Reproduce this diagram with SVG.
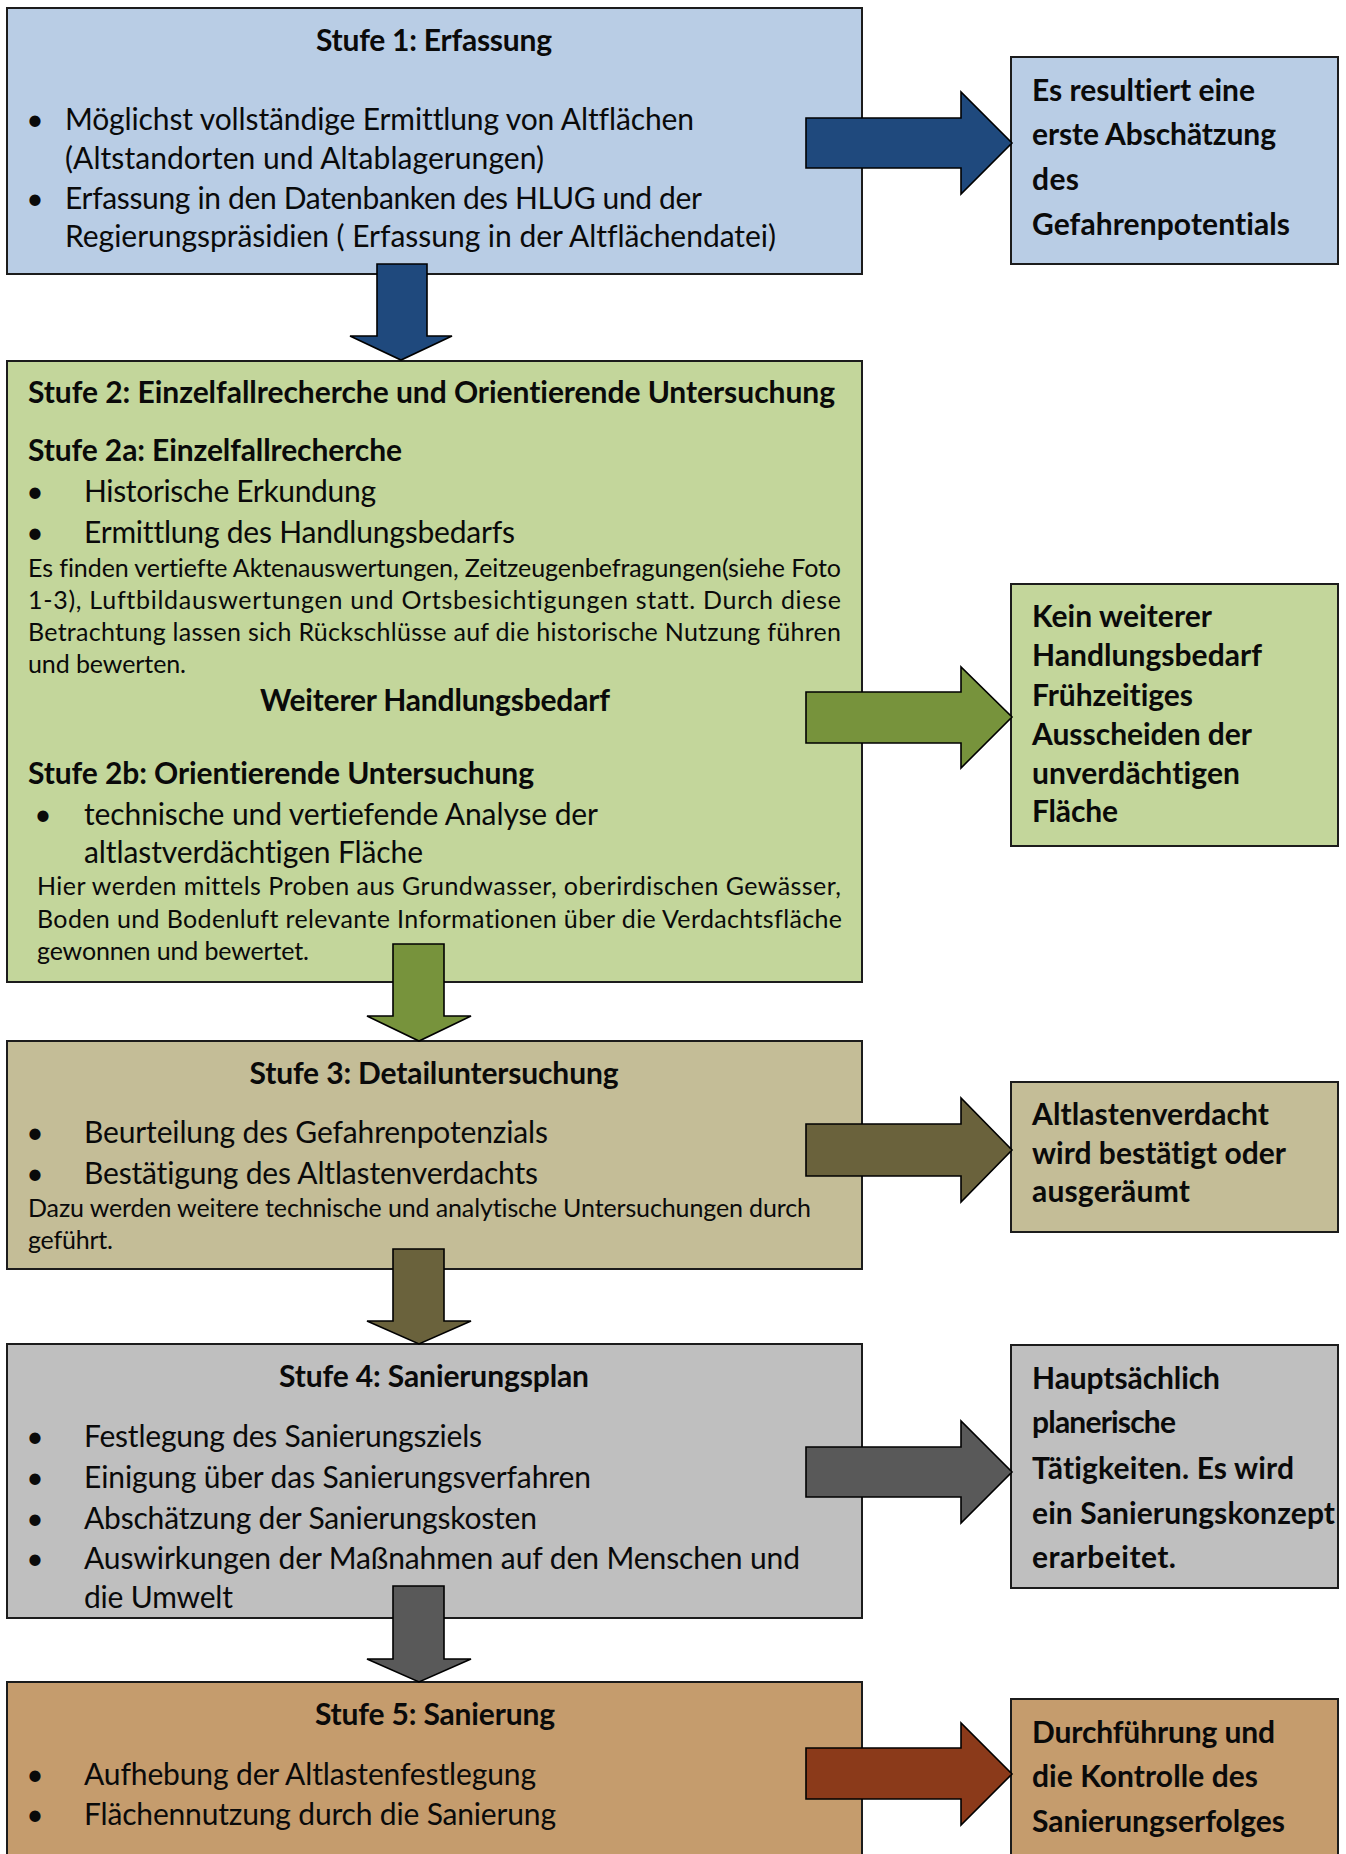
<svg xmlns="http://www.w3.org/2000/svg" width="1346" height="1854" viewBox="0 0 1346 1854">
<style>
.box{stroke:#1c1c1c;stroke-width:2}
.arr{stroke:#000;stroke-width:1.6;stroke-linejoin:miter}
text{font-family:Lato,"Open Sans","Liberation Sans",sans-serif;fill:#0a0a0a;font-variant-ligatures:none;font-feature-settings:"liga" 0,"dlig" 0}
.h{font-weight:bold;font-size:30px}
.n{font-size:30px}
.p{font-size:25px}
.c{text-anchor:middle}
.blt{font-size:30px;text-anchor:middle}
</style>
<rect width="1346" height="1854" fill="#ffffff"/>

<g id="stufe1">
<rect class="box" x="7" y="8" width="855" height="266" fill="#b9cde5"/>
<text class="h c" x="434" y="51" textLength="236">Stufe 1: Erfassung</text>
<text class="blt" x="35" y="130">•</text>
<text class="n" x="65" y="130" textLength="629">Möglichst vollständige Ermittlung von Altflächen</text>
<text class="n" x="65" y="169" textLength="479">(Altstandorten und Altablagerungen)</text>
<text class="blt" x="35" y="209">•</text>
<text class="n" x="65" y="209" textLength="637">Erfassung in den Datenbanken des HLUG und der</text>
<text class="n" x="65" y="247" textLength="711">Regierungspräsidien ( Erfassung in der Altflächendatei)</text>
</g>

<g id="ergebnis1">
<rect class="box" x="1011" y="57" width="327" height="207" fill="#b9cde5"/>
<text class="h" x="1032" y="101" textLength="223">Es resultiert eine</text>
<text class="h" x="1032" y="145" textLength="244">erste Abschätzung</text>
<text class="h" x="1032" y="190" textLength="47">des</text>
<text class="h" x="1032" y="235" textLength="258">Gefahrenpotentials</text>
</g>

<g id="stufe2">
<rect class="box" x="7" y="361" width="855" height="621" fill="#c3d69b"/>
<text class="h" x="28" y="403" textLength="807">Stufe 2: Einzelfallrecherche und Orientierende Untersuchung</text>
<text class="h" x="28" y="461" textLength="374">Stufe 2a: Einzelfallrecherche</text>
<text class="blt" x="35" y="502">•</text>
<text class="n" x="84" y="502" textLength="292">Historische Erkundung</text>
<text class="blt" x="35" y="543">•</text>
<text class="n" x="84" y="543" textLength="431">Ermittlung des Handlungsbedarfs</text>
<text class="p" x="28" y="577" textLength="813" lengthAdjust="spacing">Es finden vertiefte Aktenauswertungen, Zeitzeugenbefragungen(siehe Foto</text>
<text class="p" x="28" y="609" textLength="813" lengthAdjust="spacing">1-3), Luftbildauswertungen und Ortsbesichtigungen statt. Durch diese</text>
<text class="p" x="28" y="641" textLength="813" lengthAdjust="spacing">Betrachtung lassen sich Rückschlüsse auf die historische Nutzung führen</text>
<text class="p" x="28" y="673" textLength="158">und bewerten.</text>
<text class="h c" x="435" y="711" textLength="350">Weiterer Handlungsbedarf</text>
<text class="h" x="28" y="784" textLength="506">Stufe 2b: Orientierende Untersuchung</text>
<text class="blt" x="43" y="825">•</text>
<text class="n" x="84" y="825" textLength="514">technische und vertiefende Analyse der</text>
<text class="n" x="84" y="863" textLength="339">altlastverdächtigen Fläche</text>
<text class="p" x="37" y="895" textLength="804" lengthAdjust="spacing">Hier werden mittels Proben aus Grundwasser, oberirdischen Gewässer,</text>
<text class="p" x="37" y="928" textLength="805" lengthAdjust="spacing">Boden und Bodenluft relevante Informationen über die Verdachtsfläche</text>
<text class="p" x="37" y="960" textLength="272">gewonnen und bewertet.</text>
</g>

<g id="ergebnis2">
<rect class="box" x="1011" y="584" width="327" height="262" fill="#c3d69b"/>
<text class="h" x="1032" y="627" textLength="180">Kein weiterer</text>
<text class="h" x="1032" y="666" textLength="230">Handlungsbedarf</text>
<text class="h" x="1032" y="706" textLength="161">Frühzeitiges</text>
<text class="h" x="1032" y="745" textLength="220">Ausscheiden der</text>
<text class="h" x="1032" y="784" textLength="208">unverdächtigen</text>
<text class="h" x="1032" y="822" textLength="86">Fläche</text>
</g>

<g id="stufe3">
<rect class="box" x="7" y="1041" width="855" height="228" fill="#c4bd97"/>
<text class="h c" x="434" y="1084" textLength="369">Stufe 3: Detailuntersuchung</text>
<text class="blt" x="35" y="1143">•</text>
<text class="n" x="84" y="1143" textLength="464">Beurteilung des Gefahrenpotenzials</text>
<text class="blt" x="35" y="1184">•</text>
<text class="n" x="84" y="1184" textLength="454">Bestätigung des Altlastenverdachts</text>
<text class="p" x="28" y="1217" textLength="783">Dazu werden weitere technische und analytische Untersuchungen durch</text>
<text class="p" x="28" y="1249" textLength="85">geführt.</text>
</g>

<g id="ergebnis3">
<rect class="box" x="1011" y="1082" width="327" height="150" fill="#c4bd97"/>
<text class="h" x="1032" y="1125" textLength="237">Altlastenverdacht</text>
<text class="h" x="1032" y="1164" textLength="254">wird bestätigt oder</text>
<text class="h" x="1032" y="1202" textLength="158">ausgeräumt</text>
</g>

<g id="stufe4">
<rect class="box" x="7" y="1344" width="855" height="274" fill="#bfbfbf"/>
<text class="h c" x="434" y="1387" textLength="310">Stufe 4: Sanierungsplan</text>
<text class="blt" x="35" y="1447">•</text>
<text class="n" x="84" y="1447" textLength="398">Festlegung des Sanierungsziels</text>
<text class="blt" x="35" y="1488">•</text>
<text class="n" x="84" y="1488" textLength="507">Einigung über das Sanierungsverfahren</text>
<text class="blt" x="35" y="1529">•</text>
<text class="n" x="84" y="1529" textLength="453">Abschätzung der Sanierungskosten</text>
<text class="blt" x="35" y="1569">•</text>
<text class="n" x="84" y="1569" textLength="716">Auswirkungen der Maßnahmen auf den Menschen und</text>
<text class="n" x="84" y="1608" textLength="149">die Umwelt</text>
</g>

<g id="ergebnis4">
<rect class="box" x="1011" y="1345" width="327" height="243" fill="#bfbfbf"/>
<text class="h" x="1032" y="1389" textLength="188">Hauptsächlich</text>
<text class="h" x="1032" y="1433" textLength="144">planerische</text>
<text class="h" x="1032" y="1479" textLength="262">Tätigkeiten. Es wird</text>
<text class="h" x="1032" y="1524" textLength="303">ein Sanierungskonzept</text>
<text class="h" x="1032" y="1568" textLength="144">erarbeitet.</text>
</g>

<g id="stufe5">
<rect class="box" x="7" y="1682" width="855" height="200" fill="#c59c6d"/>
<text class="h c" x="435" y="1725" textLength="240">Stufe 5: Sanierung</text>
<text class="blt" x="35" y="1785">•</text>
<text class="n" x="84" y="1785" textLength="452">Aufhebung der Altlastenfestlegung</text>
<text class="blt" x="35" y="1825">•</text>
<text class="n" x="84" y="1825" textLength="472">Flächennutzung durch die Sanierung</text>
</g>

<g id="ergebnis5">
<rect class="box" x="1011" y="1699" width="327" height="200" fill="#c59c6d"/>
<text class="h" x="1032" y="1743" textLength="243">Durchführung und</text>
<text class="h" x="1032" y="1787" textLength="226">die Kontrolle des</text>
<text class="h" x="1032" y="1832" textLength="253">Sanierungserfolges</text>
</g>

<g id="connectors">
<path class="arr" fill="#1f497d" d="M806,118 H961 V92 L1012,143 L961,194 V168 H806 Z"/>
<path class="arr" fill="#1f497d" d="M377,264 H427 V336 H452 L401,360 L350,336 H377 Z"/>
<path class="arr" fill="#77933c" d="M806,692 H961 V667 L1012,717 L961,768 V743 H806 Z"/>
<path class="arr" fill="#77933c" d="M393,944 H444 V1016 H471 L419,1041 L367,1016 H393 Z"/>
<path class="arr" fill="#6a623c" d="M806,1124 H961 V1098 L1012,1150 L961,1202 V1176 H806 Z"/>
<path class="arr" fill="#6a623c" d="M393,1249 H444 V1321 H471 L419,1344 L367,1321 H393 Z"/>
<path class="arr" fill="#595959" d="M806,1447 H961 V1421 L1012,1472 L961,1523 V1497 H806 Z"/>
<path class="arr" fill="#595959" d="M393,1586 H444 V1659 H471 L419,1682 L367,1659 H393 Z"/>
<path class="arr" fill="#8b3a1a" d="M806,1748 H961 V1723 L1012,1774 L961,1825 V1799 H806 Z"/>
</g>
</svg>
